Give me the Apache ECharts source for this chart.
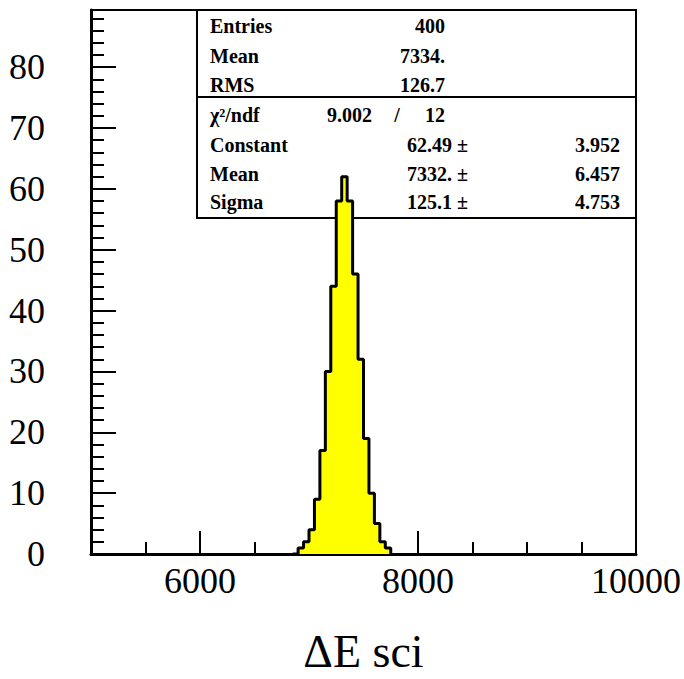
<!DOCTYPE html>
<html>
<head>
<meta charset="utf-8">
<script src="https://cdn.jsdelivr.net/npm/echarts@6/dist/echarts.min.js"></script>
<style>
  html, body { margin: 0; padding: 0; background: #fff; }
  #chart { width: 684px; height: 679px; }
</style>
</head>
<body>
<div id="chart"></div>
<script>
// histogram bins (lower edges + last upper edge) and counts
var binEdges = [6850, 6900, 6950, 7000, 7050, 7100, 7150, 7200, 7250, 7300,
                7350, 7400, 7450, 7500, 7550, 7600, 7650, 7700, 7750];
var counts = [0, 1, 2, 4, 9, 17, 30, 44, 58, 62, 58, 46, 32, 19, 10, 5, 2, 1];

// axis ticks
var xMajor = [6000, 8000, 10000];
var xMinor = [5500, 6500, 7000, 7500, 8500, 9000, 9500];
var yMajor = [0, 10, 20, 30, 40, 50, 60, 70, 80];
var yMinor = [2, 4, 6, 8, 12, 14, 16, 18, 22, 24, 26, 28, 32, 34, 36, 38, 42, 44, 46, 48,
              52, 54, 56, 58, 62, 64, 66, 68, 72, 74, 76, 78, 82, 84, 86, 88];

// stats box
var statNames = ['Entries', 'Mean', 'RMS'];
var statValues = ['400', '7334.', '126.7'];
var chi2Text = ['χ²/ndf', '9.002', '/', '12'];
var fitNames = ['Constant', 'Mean', 'Sigma'];
var fitValues = ['62.49', '7332.', '125.1'];
var fitErrors = ['3.952', '6.457', '4.753'];

var serif = '"Liberation Serif", "Times New Roman", serif';

var histData = binEdges.map(function (e, i) {
    return [e, i < counts.length ? counts[i] : 0];
});

function txt(s, x, y, align) {
    return {
        type: 'text', x: x, y: y, z: 1,
        style: {
            text: s, fill: '#000',
            font: 'bold 20px ' + serif,
            align: align, verticalAlign: 'middle'
        }
    };
}

var graphics = [
    { type: 'rect', z: 1, shape: { x: 197, y: 10, width: 439, height: 208 },
      style: { fill: 'none', stroke: '#000', lineWidth: 2 } },
    { type: 'line', z: 1, shape: { x1: 197, y1: 97, x2: 636, y2: 97 },
      style: { stroke: '#000', lineWidth: 2 } }
];
var rowY1 = [26, 56, 85];
statNames.forEach(function (n, i) {
    graphics.push(txt(n, 210, rowY1[i], 'left'));
    graphics.push(txt(statValues[i], 445, rowY1[i], 'right'));
});
graphics.push(txt(chi2Text[0], 210, 115, 'left'));
graphics.push(txt(chi2Text[1], 372, 115, 'right'));
graphics.push(txt(chi2Text[2], 397, 115, 'center'));
graphics.push(txt(chi2Text[3], 445, 115, 'right'));
var rowY2 = [145, 174, 202];
fitNames.forEach(function (n, i) {
    graphics.push(txt(n, 210, rowY2[i], 'left'));
    graphics.push(txt(fitValues[i] + ' ±', 468, rowY2[i], 'right'));
    graphics.push(txt(fitErrors[i], 620, rowY2[i], 'right'));
});

var chart = echarts.init(document.getElementById('chart'), null, { renderer: 'svg' });
var option = {
    backgroundColor: '#fff',
    animation: false,
    grid: {
        left: 91, right: 48, top: 10, bottom: 125,
        containLabel: false, outerBoundsMode: 'none',
        show: true, borderColor: '#000', borderWidth: 2, backgroundColor: 'transparent'
    },
    xAxis: [{
        type: 'value', min: 5000, max: 10000, position: 'bottom',
        name: 'ΔE sci', nameLocation: 'middle', nameGap: 74,
        nameTextStyle: { fontFamily: serif, fontSize: 46, lineHeight: 46, color: '#000' },
        axisLine: { lineStyle: { color: '#000', width: 3 } },
        axisTick: { inside: true, length: 23, customValues: xMajor, lineStyle: { color: '#000', width: 2 } },
        axisLabel: {
            customValues: xMajor, fontFamily: serif, fontSize: 36, color: '#000', margin: 9,
            formatter: function (v) { return String(v); }
        },
        splitLine: { show: false }
    }, {
        type: 'value', min: 5000, max: 10000, position: 'bottom',
        axisLine: { show: false },
        axisTick: { inside: true, length: 12, customValues: xMinor, lineStyle: { color: '#000', width: 2 } },
        axisLabel: { show: false },
        splitLine: { show: false }
    }],
    yAxis: [{
        type: 'value', min: 0, max: 89.4, position: 'left',
        axisLine: { show: true, lineStyle: { color: '#000', width: 3 } },
        axisTick: { show: true, inside: true, length: 25, customValues: yMajor, lineStyle: { color: '#000', width: 2 } },
        axisLabel: { customValues: yMajor, fontFamily: serif, fontSize: 36, color: '#000', margin: 46 },
        splitLine: { show: false }
    }, {
        type: 'value', min: 0, max: 89.4, position: 'left',
        axisLine: { show: false },
        axisTick: { show: true, inside: true, length: 13, customValues: yMinor, lineStyle: { color: '#000', width: 2 } },
        axisLabel: { show: false },
        splitLine: { show: false }
    }],
    graphic: graphics,
    series: [{
        type: 'line',
        xAxisIndex: 0, yAxisIndex: 0,
        step: 'end',
        showSymbol: false,
        z: 3,
        lineStyle: { color: '#000', width: 3 },
        areaStyle: { color: '#ffff00', opacity: 1 },
        data: histData
    }]
};
chart.setOption(option);
</script>
</body>
</html>
